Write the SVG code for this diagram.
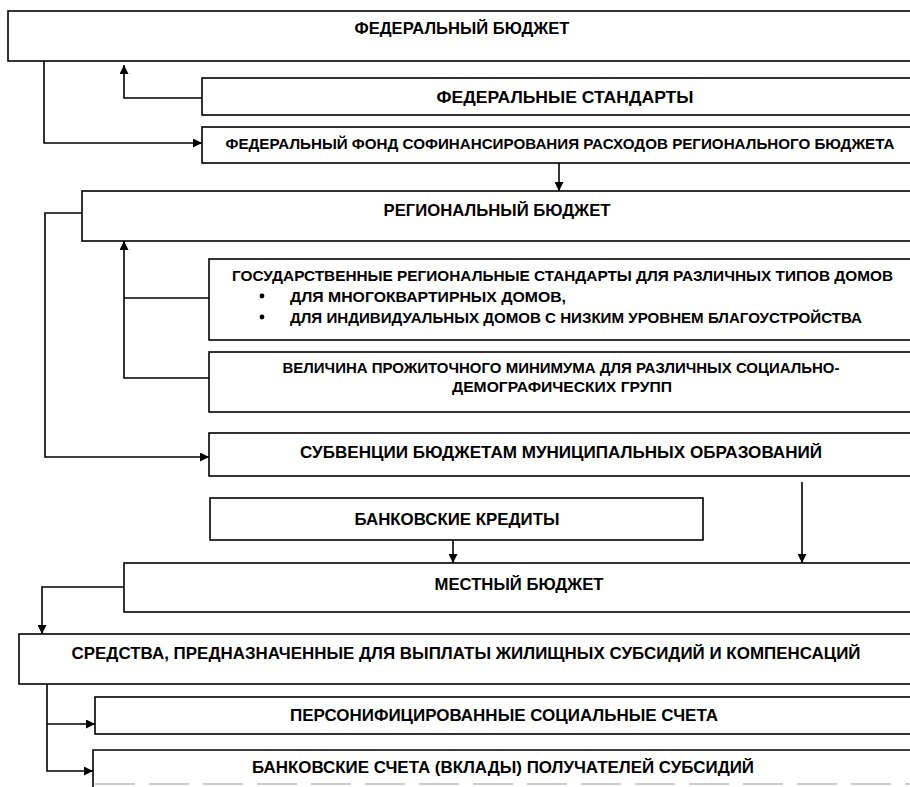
<svg xmlns="http://www.w3.org/2000/svg" width="910" height="787" viewBox="0 0 910 787">
<style>
.box{fill:#fff;stroke:#000;stroke-width:1.6}
.t{font-family:"Liberation Sans",Arial,sans-serif;font-weight:bold;font-size:16.5px;fill:#000}
.s{font-size:15px}
.m{text-anchor:middle}
.ln{fill:none;stroke:#000;stroke-width:1.6}
</style>
<defs>
<marker id="ah" viewBox="0 0 10 10" refX="10" refY="5" markerWidth="10" markerHeight="9" markerUnits="userSpaceOnUse" orient="auto">
<path d="M0,0 L10,5 L0,10 Z" fill="#000"/>
</marker>
</defs>
<rect width="910" height="787" fill="#fff"/>
<g id="fed-budget"><rect class="box" x="8" y="11" width="920" height="50"/><text class="t m" x="462" y="34" textLength="215" lengthAdjust="spacingAndGlyphs">ФЕДЕРАЛЬНЫЙ БЮДЖЕТ</text></g>
<g id="fed-standards"><rect class="box" x="202" y="78" width="720" height="37"/><text class="t m" x="565" y="103" textLength="257" lengthAdjust="spacingAndGlyphs">ФЕДЕРАЛЬНЫЕ СТАНДАРТЫ</text></g>
<g id="fed-fund"><rect class="box" x="202" y="127" width="720" height="36"/><text class="t s m" x="560" y="149" textLength="669" lengthAdjust="spacingAndGlyphs">ФЕДЕРАЛЬНЫЙ ФОНД СОФИНАНСИРОВАНИЯ РАСХОДОВ РЕГИОНАЛЬНОГО БЮДЖЕТА</text></g>
<g id="reg-budget"><rect class="box" x="82" y="191" width="840" height="50"/><text class="t m" x="497" y="216" textLength="227" lengthAdjust="spacingAndGlyphs">РЕГИОНАЛЬНЫЙ БЮДЖЕТ</text></g>
<g id="reg-standards"><rect class="box" x="209" y="259" width="720" height="81"/>
<text class="t s" x="232" y="281" textLength="661" lengthAdjust="spacingAndGlyphs">ГОСУДАРСТВЕННЫЕ РЕГИОНАЛЬНЫЕ СТАНДАРТЫ ДЛЯ РАЗЛИЧНЫХ ТИПОВ ДОМОВ</text>
<circle cx="262" cy="296" r="2.4"/><text class="t s" x="290" y="302" textLength="276" lengthAdjust="spacingAndGlyphs">ДЛЯ МНОГОКВАРТИРНЫХ ДОМОВ,</text>
<circle cx="262" cy="317" r="2.4"/><text class="t s" x="290" y="323" textLength="572" lengthAdjust="spacingAndGlyphs">ДЛЯ ИНДИВИДУАЛЬНЫХ ДОМОВ С НИЗКИМ УРОВНЕМ БЛАГОУСТРОЙСТВА</text></g>
<g id="subsistence"><rect class="box" x="209" y="352" width="720" height="60"/>
<text class="t s m" x="561" y="373" textLength="557" lengthAdjust="spacingAndGlyphs">ВЕЛИЧИНА ПРОЖИТОЧНОГО МИНИМУМА ДЛЯ РАЗЛИЧНЫХ СОЦИАЛЬНО-</text>
<text class="t s m" x="562" y="392" textLength="220" lengthAdjust="spacingAndGlyphs">ДЕМОГРАФИЧЕСКИХ ГРУПП</text></g>
<g id="subventions"><rect class="box" x="209" y="433" width="720" height="43"/><text class="t m" x="561" y="458" textLength="522" lengthAdjust="spacingAndGlyphs">СУБВЕНЦИИ БЮДЖЕТАМ МУНИЦИПАЛЬНЫХ ОБРАЗОВАНИЙ</text></g>
<g id="bank-credits"><rect class="box" x="210" y="498" width="493" height="42"/><text class="t m" x="457" y="525" textLength="205" lengthAdjust="spacingAndGlyphs">БАНКОВСКИЕ КРЕДИТЫ</text></g>
<g id="local-budget"><rect class="box" x="124" y="563" width="800" height="49"/><text class="t m" x="519" y="590" textLength="169" lengthAdjust="spacingAndGlyphs">МЕСТНЫЙ БЮДЖЕТ</text></g>
<g id="funds"><rect class="box" x="19" y="634" width="910" height="50"/><text class="t m" x="466" y="659" textLength="789" lengthAdjust="spacingAndGlyphs">СРЕДСТВА, ПРЕДНАЗНАЧЕННЫЕ ДЛЯ ВЫПЛАТЫ ЖИЛИЩНЫХ СУБСИДИЙ И КОМПЕНСАЦИЙ</text></g>
<g id="personal-accounts"><rect class="box" x="95" y="697" width="830" height="37"/><text class="t m" x="504" y="721" textLength="428" lengthAdjust="spacingAndGlyphs">ПЕРСОНИФИЦИРОВАННЫЕ СОЦИАЛЬНЫЕ СЧЕТА</text></g>
<g id="bank-accounts"><path class="ln" d="M930,750 H93 V787"/><path d="M95,784 H910" stroke="#bbb" stroke-width="1.5" stroke-dasharray="40,14" fill="none"/><text class="t m" x="503" y="773" textLength="502" lengthAdjust="spacingAndGlyphs">БАНКОВСКИЕ СЧЕТА (ВКЛАДЫ) ПОЛУЧАТЕЛЕЙ СУБСИДИЙ</text></g>
<g id="connectors">
<path class="ln" d="M202,98 H124 V65" marker-end="url(#ah)"/>
<path class="ln" d="M44,61 V143 H202" marker-end="url(#ah)"/>
<path class="ln" d="M559,163 V191" marker-end="url(#ah)"/>
<path class="ln" d="M82,213 H45 V457 H209" marker-end="url(#ah)"/>
<path class="ln" d="M209,378 H124 V241" marker-end="url(#ah)"/>
<path class="ln" d="M209,298 H124"/>
<path class="ln" d="M453,540 V563" marker-end="url(#ah)"/>
<path class="ln" d="M802,482 V563" marker-end="url(#ah)"/>
<path class="ln" d="M124,587 H42 V634" marker-end="url(#ah)"/>
<path class="ln" d="M47,684 V771 H93" marker-end="url(#ah)"/>
<path class="ln" d="M47,724 H95" marker-end="url(#ah)"/>
</g>
</svg>
